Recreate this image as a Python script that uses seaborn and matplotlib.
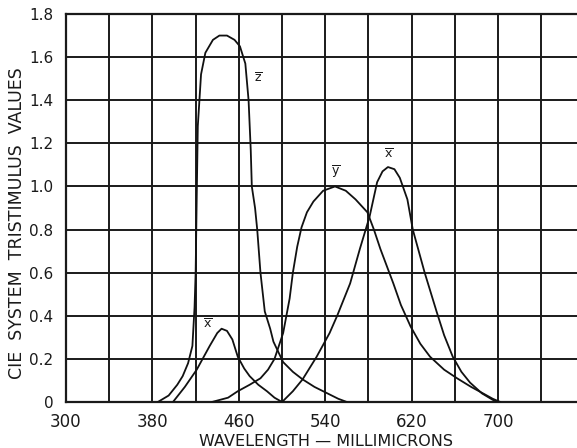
import matplotlib
matplotlib.use("Agg")
import matplotlib.pyplot as plt
import seaborn as sns
import pandas as pd

# ---- data ----
z_wl = [385, 395, 403, 408, 413, 417, 419, 420, 421, 422, 425, 429, 436, 442, 449,
        456, 461, 466, 469, 471, 472, 475, 477, 480, 484, 489, 492, 501, 510, 519,
        530, 542, 552, 560]
z_val = [0.0, 0.03, 0.08, 0.12, 0.18, 0.26, 0.44, 0.60, 0.95, 1.28, 1.52, 1.62, 1.68,
         1.70, 1.70, 1.68, 1.65, 1.57, 1.40, 1.17, 1.00, 0.90, 0.80, 0.60, 0.42, 0.34,
         0.28, 0.185, 0.14, 0.105, 0.07, 0.04, 0.015, 0.0]

x_wl = [399, 410, 421, 433, 440, 444, 449, 454, 459, 465, 470, 478, 486, 493, 500,
        510, 519, 532, 544, 551, 563, 572, 581, 588, 593, 598, 604, 609, 616, 621,
        632, 643, 650, 658, 666, 674, 685, 695, 700]
x_val = [0.0, 0.07, 0.15, 0.26, 0.32, 0.34, 0.33, 0.29, 0.21, 0.155, 0.12, 0.08, 0.05,
         0.02, 0.0, 0.05, 0.105, 0.21, 0.32, 0.40, 0.55, 0.71, 0.86, 1.02, 1.07, 1.09,
         1.08, 1.04, 0.94, 0.80, 0.60, 0.42, 0.31, 0.21, 0.14, 0.09, 0.04, 0.01, 0.0]

y_wl = [435, 450, 459, 470, 480, 487, 493, 501, 507, 510, 514, 518, 523, 529, 538,
        549, 559, 568, 579, 585, 591, 603, 610, 619, 628, 637, 650, 662, 675, 686,
        695, 702]
y_val = [0.0, 0.02, 0.05, 0.08, 0.11, 0.15, 0.20, 0.32, 0.48, 0.60, 0.72, 0.81, 0.88,
         0.93, 0.98, 1.00, 0.98, 0.94, 0.88, 0.80, 0.71, 0.55, 0.45, 0.35, 0.27, 0.21,
         0.15, 0.11, 0.07, 0.04, 0.015, 0.0]

curve_labels = [r"$\overline{\mathsf{z}}$", r"$\overline{\mathsf{x}}$",
                r"$\overline{\mathsf{y}}$", r"$\overline{\mathsf{x}}$"]
label_pos_wl = [478, 431, 550, 599]
label_pos_val = [1.50, 0.36, 1.07, 1.15]

x_ticks = [300, 340, 380, 420, 460, 500, 540, 580, 620, 660, 700, 740]
x_tick_labels = ["300", "", "380", "", "460", "", "540", "", "620", "", "700", ""]
y_ticks = [0, 0.2, 0.4, 0.6, 0.8, 1.0, 1.2, 1.4, 1.6, 1.8]
y_tick_labels = ["0", "0.2", "0.4", "0.6", "0.8", "1.0", "1.2", "1.4", "1.6", "1.8"]

df = pd.concat([
    pd.DataFrame({"wl": z_wl, "v": z_val, "curve": "z"}),
    pd.DataFrame({"wl": x_wl, "v": x_val, "curve": "x"}),
    pd.DataFrame({"wl": y_wl, "v": y_val, "curve": "y"}),
], ignore_index=True)

sns.set_theme(style="white")
plt.rcParams["font.family"] = ["DejaVu Sans"]
plt.rcParams["mathtext.fontset"] = "dejavusans"

fig = plt.figure(figsize=(5.77, 4.48), dpi=100)
ax = fig.add_axes([66 / 577, 1 - 402 / 448, 1 - 66 / 577, (402 - 14) / 448])

sns.lineplot(data=df, x="wl", y="v", hue="curve", units="curve", estimator=None,
             sort=False, palette={"z": "#111111", "x": "#111111", "y": "#111111"},
             legend=False, linewidth=1.3, ax=ax, zorder=3)

ax.set_xlim(300, 773)
ax.set_ylim(0, 1.8)
ax.set_xticks(x_ticks)
ax.set_xticklabels(x_tick_labels)
ax.set_yticks(y_ticks)
ax.set_yticklabels(y_tick_labels)
ax.tick_params(length=0, colors="#1a1a1a")
ax.tick_params(axis="x", pad=8, labelsize=12)
ax.tick_params(axis="y", pad=9, labelsize=11)
ax.grid(True, color="#1a1a1a", linewidth=1.4)
for s in ["left", "bottom", "top"]:
    ax.spines[s].set_color("#1a1a1a")
    ax.spines[s].set_linewidth(1.6)
ax.spines["right"].set_visible(False)

ax.set_xlabel("WAVELENGTH — MILLIMICRONS", fontsize=11.5, color="#1a1a1a")
ax.set_ylabel("CIE  SYSTEM  TRISTIMULUS  VALUES", fontsize=12.5, color="#1a1a1a")
ax.xaxis.set_label_coords(0.508, -0.082)
ax.yaxis.set_label_coords(-0.078, 0.46)

for t, xw, yv in zip(curve_labels, label_pos_wl, label_pos_val):
    ax.text(xw, yv, t, fontsize=9, ha="center", va="center", color="#1a1a1a",
            bbox=dict(facecolor="white", edgecolor="none", pad=0.5), zorder=4)

fig.savefig("out.png", dpi=100, facecolor="white")
